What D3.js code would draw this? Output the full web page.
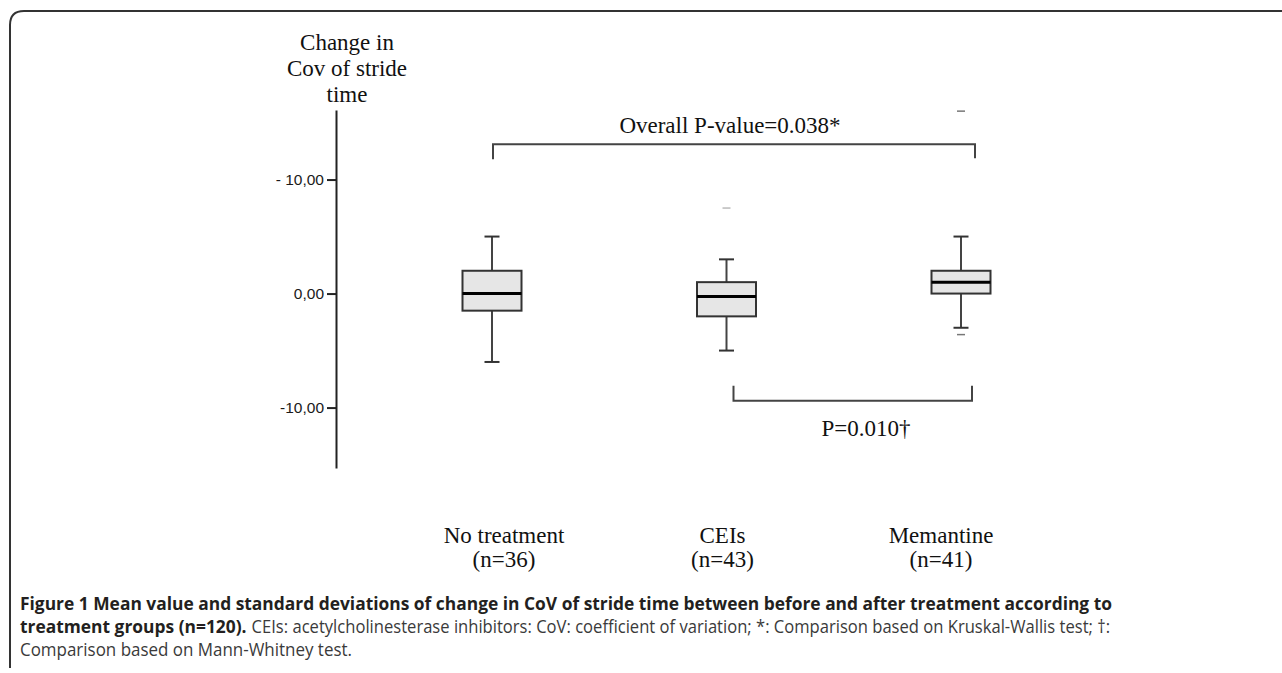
<!DOCTYPE html>
<html>
<head>
<meta charset="utf-8">
<script src="https://cdn.jsdelivr.net/npm/d3@7"></script>
<style>
  body { margin: 0; background: #fff; }
  svg { display: block; }
</style>
</head>
<body>
<div id="chart"></div>
<script>
// groups and box statistics
const groups = ["No treatment", "CEIs", "Memantine"];
const groupN = ["(n=36)", "(n=43)", "(n=41)"];
const whiskerHigh = [5, 3, 5];
const upperQuartile = [2, 1, 2];
const median = [0, -0.25, 1];
const lowerQuartile = [-1.5, -2, 0];
const whiskerLow = [-6, -5, -3];
const outlierGroups = ["CEIs", "Memantine", "Memantine"];
const outlierValues = [7.5, 16, -3.6];

const tickValues = [10, 0, -10];
const tickLabels = ["- 10,00", "0,00", "-10,00"];

const yTitle = ["Change in", "Cov of stride", "time"];
const overallText = "Overall P-value=0.038*";
const pairText = "P=0.010\u2020";

class StrideBoxPlot {
    constructor(parentElement) {
        this.parentElement = parentElement;
        this.initVis();
    }

    initVis() {
        let vis = this;
        vis.width = 1282;
        vis.height = 673;

        vis.svg = d3.select("#" + vis.parentElement).append("svg")
            .attr("width", vis.width)
            .attr("height", vis.height);

        // figure frame (top + left, rounded corner)
        vis.svg.append("path")
            .attr("d", "M10,668 L10,25 Q10,11 24,11 L1282,11")
            .attr("fill", "none")
            .attr("stroke", "#333")
            .attr("stroke-width", 2);

        vis.y = d3.scaleLinear().domain([-15.3, 16.1]).range([468, 110]);
        vis.x = d3.scalePoint().domain(groups).range([492, 961]);
        vis.xLabel = d3.scalePoint().domain(groups).range([504, 941]);

        vis.serif = "'Liberation Serif', 'Times New Roman', serif";

        // y axis
        let axis = d3.axisLeft(vis.y)
            .tickValues(tickValues)
            .tickSize(9)
            .tickSizeOuter(0)
            .tickPadding(3)
            .tickFormat((d, i) => tickLabels[i]);

        let g = vis.svg.append("g")
            .attr("transform", "translate(336,0)")
            .call(axis);
        g.select(".domain").attr("stroke", "#222").attr("stroke-width", 2);
        g.selectAll(".tick line").attr("stroke", "#222").attr("stroke-width", 2);
        g.selectAll(".tick text")
            .attr("fill", "#1a1a1a")
            .attr("font-size", 15.5)
            .attr("font-family", "'Liberation Sans', Arial, sans-serif");

        // y title
        vis.svg.append("text")
            .attr("text-anchor", "middle")
            .attr("font-family", vis.serif)
            .attr("font-size", 23)
            .attr("fill", "#111")
            .selectAll("tspan")
            .data(yTitle)
            .join("tspan")
            .attr("x", 347)
            .attr("y", (d, i) => 50 + i * 26)
            .text(d => d);

        vis.drawBoxes();
        vis.drawBrackets();
        vis.drawLabels();
        vis.drawCaption();
    }

    drawBoxes() {
        let vis = this;
        let boxW = 59, capW = 15;
        let data = groups.map((grp, i) => ({
            grp: grp, hi: whiskerHigh[i], q3: upperQuartile[i], med: median[i],
            q1: lowerQuartile[i], lo: whiskerLow[i]
        }));

        let box = vis.svg.append("g").selectAll("g")
            .data(data)
            .join("g")
            .attr("transform", d => `translate(${vis.x(d.grp)},0)`);

        // whiskers
        box.append("line")
            .attr("y1", d => vis.y(d.hi)).attr("y2", d => vis.y(d.q3))
            .attr("stroke", "#444").attr("stroke-width", 2);
        box.append("line")
            .attr("y1", d => vis.y(d.q1)).attr("y2", d => vis.y(d.lo))
            .attr("stroke", "#444").attr("stroke-width", 2);
        box.append("line")
            .attr("x1", -capW / 2).attr("x2", capW / 2)
            .attr("y1", d => vis.y(d.hi)).attr("y2", d => vis.y(d.hi))
            .attr("stroke", "#333").attr("stroke-width", 2);
        box.append("line")
            .attr("x1", -capW / 2).attr("x2", capW / 2)
            .attr("y1", d => vis.y(d.lo)).attr("y2", d => vis.y(d.lo))
            .attr("stroke", "#333").attr("stroke-width", 2);

        box.append("rect")
            .attr("x", -boxW / 2)
            .attr("width", boxW)
            .attr("y", d => vis.y(d.q3))
            .attr("height", d => vis.y(d.q1) - vis.y(d.q3))
            .attr("fill", "#e6e6e6")
            .attr("stroke", "#333")
            .attr("stroke-width", 2);

        box.append("line")
            .attr("x1", -boxW / 2).attr("x2", boxW / 2)
            .attr("y1", d => vis.y(d.med)).attr("y2", d => vis.y(d.med))
            .attr("stroke", "#000").attr("stroke-width", 3);

        // faint outlier dashes
        vis.svg.append("g").selectAll("line")
            .data(outlierValues)
            .join("line")
            .attr("x1", (d, i) => vis.x(outlierGroups[i]) - 4)
            .attr("x2", (d, i) => vis.x(outlierGroups[i]) + 4)
            .attr("y1", d => vis.y(d)).attr("y2", d => vis.y(d))
            .attr("stroke", (d, i) => i === 0 ? "#bbb" : "#777")
            .attr("stroke-width", 1.5);
    }

    drawBrackets() {
        let vis = this;
        // overall bracket across all groups
        let x0 = vis.x(groups[0]) + 1, x1 = vis.x(groups[2]) + 14;
        let yTop = vis.y(13.1);
        vis.svg.append("path")
            .attr("d", `M${x0},${yTop + 15} V${yTop} H${x1} V${yTop + 14}`)
            .attr("fill", "none").attr("stroke", "#444").attr("stroke-width", 2);
        vis.svg.append("text")
            .attr("x", 730).attr("y", yTop - 11)
            .attr("text-anchor", "middle")
            .attr("font-family", vis.serif).attr("font-size", 23)
            .attr("fill", "#111")
            .text(overallText);

        // CEIs vs Memantine bracket
        let b0 = vis.x(groups[1]) + 7, b1 = vis.x(groups[2]) + 11;
        let yBot = vis.y(-9.4);
        vis.svg.append("path")
            .attr("d", `M${b0},${yBot - 15} V${yBot} H${b1} V${yBot - 15}`)
            .attr("fill", "none").attr("stroke", "#444").attr("stroke-width", 2);
        vis.svg.append("text")
            .attr("x", 866).attr("y", yBot + 35)
            .attr("text-anchor", "middle")
            .attr("font-family", vis.serif).attr("font-size", 23)
            .attr("fill", "#111")
            .text(pairText);
    }

    drawLabels() {
        let vis = this;
        let lab = vis.svg.append("g").selectAll("text")
            .data(groups)
            .join("text")
            .attr("text-anchor", "middle")
            .attr("font-family", vis.serif)
            .attr("font-size", 23)
            .attr("fill", "#111");
        lab.append("tspan")
            .attr("x", d => vis.xLabel(d)).attr("y", 543)
            .text(d => d);
        lab.append("tspan")
            .attr("x", d => vis.xLabel(d)).attr("y", 567)
            .text((d, i) => groupN[i]);
    }

    drawCaption() {
        let vis = this;
        let font = "'Open Sans', 'Noto Sans', sans-serif";
        let left = 20;
        let segs = [
            {t: "Figure 1 Mean value and standard deviations of change in CoV of stride time between before and after treatment according to", b: true, line: 0},
            {t: "treatment groups (n=120).", b: true, line: 1},
            {t: "CEIs: acetylcholinesterase inhibitors: CoV: coefficient of variation; *: Comparison based on Kruskal-Wallis test; \u2020:", b: false, line: 1},
            {t: "Comparison based on Mann-Whitney test.", b: false, line: 2}
        ];
        // right ends of the caption lines in the figure (justified block)
        let lineEnds = [1112, 1110, 352];

        let nodes = segs.map(s => vis.svg.append("text")
            .attr("y", 610 + s.line * 23)
            .attr("font-family", font)
            .attr("font-size", 17.5)
            .attr("font-weight", s.b ? "bold" : "normal")
            .attr("fill", s.b ? "#231f20" : "#3a3a3a")
            .text(s.t));
        let natural = nodes.map(n => n.node().getComputedTextLength());

        // Myriad is narrower than Open Sans: squeeze bold and regular separately
        let rBold = (lineEnds[0] - left) / natural[0];
        let boldW = natural[1] * rBold;
        let gap = 5;
        let regW = lineEnds[1] - left - boldW - gap;
        let widths = [lineEnds[0] - left, boldW, regW, lineEnds[2] - left];
        let xs = [left, left, left + boldW + gap, left];

        nodes.forEach((n, i) => {
            n.attr("x", xs[i])
                .attr("textLength", widths[i])
                .attr("lengthAdjust", "spacingAndGlyphs");
        });
    }
}

new StrideBoxPlot("chart");
</script>
</body>
</html>
